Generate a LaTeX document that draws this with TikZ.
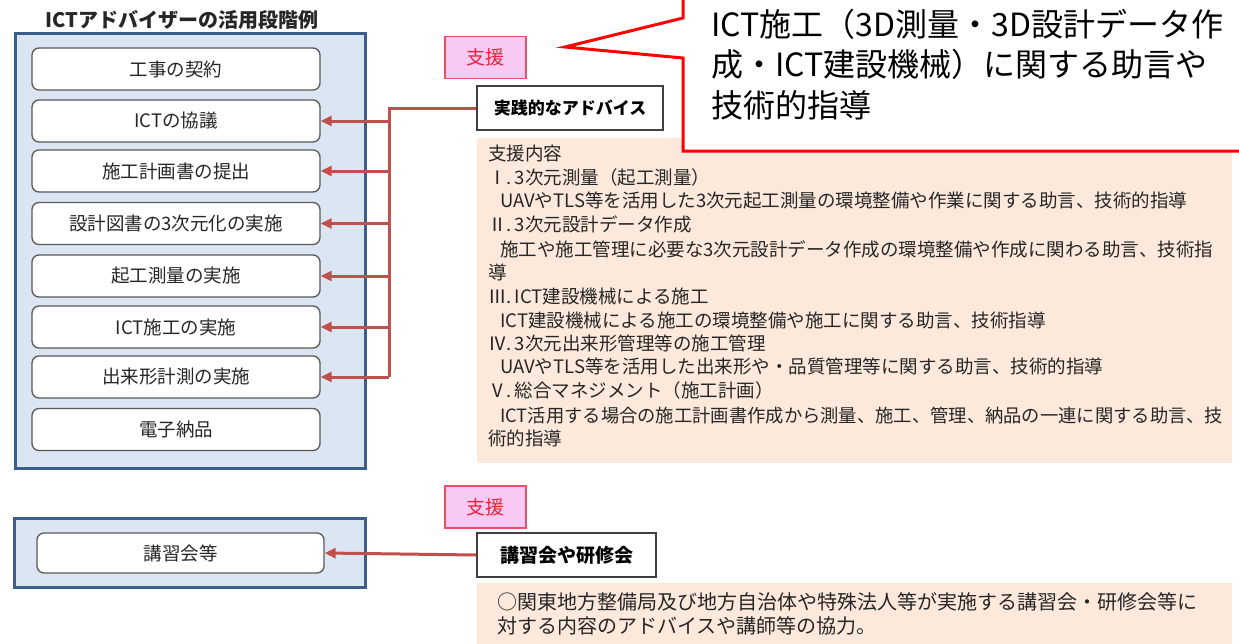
\documentclass[tikz,border=0pt]{standalone}
\usepackage{fontspec}
\setmainfont{Noto Sans CJK JP}
\usetikzlibrary{arrows.meta}
\definecolor{panelfill}{HTML}{DCE6F2}
\definecolor{panelline}{HTML}{3B5E8C}
\definecolor{arrcol}{HTML}{C0504D}
\definecolor{peach}{HTML}{FDE9DB}
\definecolor{pinkfill}{HTML}{F8C9F2}
\definecolor{pinkline}{HTML}{E8506A}
\definecolor{pinktext}{HTML}{E8203C}
\definecolor{txt}{HTML}{262626}
\tikzset{
  panel/.style={draw=panelline, fill=panelfill, line width=3pt},
  stage/.style={draw=black!65, fill=white, line width=1.3pt, rounded corners=7pt,
    minimum width=288pt, minimum height=42pt, inner sep=0pt, text=txt,
    font=\fontsize{18.5}{22}\selectfont},
  supportbox/.style={draw=pinkline, fill=pinkfill, line width=1.3pt,
    minimum width=81pt, minimum height=42pt, inner sep=0pt, text=pinktext,
    font=\fontsize{19}{22}\selectfont},
  advbox/.style={draw=black!75, fill=white, line width=1.5pt,
    minimum height=44pt, inner sep=0pt, text=black,
    font=\fontsize{17}{20}\selectfont\bfseries},
  peachbox/.style={fill=peach, draw=none},
  conn/.style={draw=arrcol, line width=3pt, line join=miter},
  arrowed/.style={conn, -{Triangle[length=11pt,width=10pt]}},
  bodyline/.style={anchor=west, inner sep=0pt, text=txt,
    text height=0.88em, text depth=0.12em,
    font=\fontsize{18.5}{22}\selectfont},
  calloutline/.style={anchor=west, inner sep=0pt, text=black,
    text height=0.88em, text depth=0.12em,
    font=\fontsize{32}{40}\selectfont},
}
\begin{document}
\begin{tikzpicture}[x=1pt,y=-1pt]
\useasboundingbox (0,0) rectangle (1239,643);
\clip (0,0) rectangle (1239,643);

% title
\node[anchor=west, inner sep=0pt, text=txt, font=\fontsize{20}{24}\selectfont\bfseries] (title) at (45,20) {ICTアドバイザーの活用段階例};

% left panels
\node[panel, minimum width=350pt, minimum height=435pt] (panel1) at (190,250.5) {};
\node[panel, minimum width=351pt, minimum height=69pt] (panel2) at (189.5,552.5) {};

\node[stage] (s1) at (176,69) {工事の契約};
\node[stage] (s2) at (176,121) {ICTの協議};
\node[stage] (s3) at (176,171) {施工計画書の提出};
\node[stage] (s4) at (176,223.5) {設計図書の3次元化の実施};
\node[stage] (s5) at (176,276) {起工測量の実施};
\node[stage] (s6) at (176,327) {ICT施工の実施};
\node[stage] (s7) at (176,377) {出来形計測の実施};
\node[stage] (s8) at (176,429.5) {電子納品};
\node[stage, minimum width=287pt, minimum height=40pt] (k1) at (180.5,553) {講習会等};

% peach boxes
\fill[peachbox] (477,138) rectangle (1232,463);
\fill[peachbox] (477,583) rectangle (1232,650);

% callout
\fill[white] (683,-5) -- (683,18) -- (565,47) -- (683,58) -- (683,151) -- (1250,151) -- (1250,-5) -- cycle;
\draw[red, line width=3pt, line join=miter] (683,-5) -- (683,18) -- (565,47) -- (683,58) -- (683,151) -- (1250,151);
\node[calloutline] (c1) at (711,33) {ICT施工（3D測量・3D設計データ作};
\node[calloutline] (c2) at (711,73) {成・ICT建設機械）に関する助言や};
\node[calloutline] (c3) at (711,114) {技術的指導};

% support labels and advice boxes
\node[supportbox] (sup1) at (485.5,57.5) {支援};
\node[supportbox] (sup2) at (485.5,507) {支援};
\node[advbox, minimum width=186pt] (adv1) at (570,108) {実践的なアドバイス};
\node[advbox, minimum width=179pt, font=\fontsize{19}{22}\selectfont\bfseries] (adv2) at (566.5,555) {講習会や研修会};

% connectors
\coordinate (trunk) at (389,108);
\draw[conn] (adv1.west) -| (trunk |- s7.east);
\foreach \s in {s2,s3,s4,s5,s6,s7}
  \draw[arrowed] (trunk |- \s.east) -- (\s.east);
\draw[arrowed] (adv2.west) -- (k1.east);

% body text
\node[bodyline] (b1) at (488,157) {支援内容};
\node[bodyline] (b2) at (488,181) {Ⅰ.\,3次元測量（起工測量）};
\node[bodyline] (b3) at (500,204) {UAVやTLS等を活用した3次元起工測量の環境整備や作業に関する助言、技術的指導};
\node[bodyline] (b4) at (488,228) {Ⅱ.\,3次元設計データ作成};
\node[bodyline] (b5) at (500,253) {施工や施工管理に必要な3次元設計データ作成の環境整備や作成に関わる助言、技術指};
\node[bodyline] (b6) at (488,276) {導};
\node[bodyline] (b7) at (488,300) {Ⅲ.\,ICT建設機械による施工};
\node[bodyline] (b8) at (500,324) {ICT建設機械による施工の環境整備や施工に関する助言、技術指導};
\node[bodyline] (b9) at (488,347) {Ⅳ.\,3次元出来形管理等の施工管理};
\node[bodyline] (b10) at (500,370) {UAVやTLS等を活用した出来形や・品質管理等に関する助言、技術的指導};
\node[bodyline] (b11) at (488,394) {Ⅴ.\,総合マネジメント（施工計画）};
\node[bodyline, font=\fontsize{18.3}{22}\selectfont] (b12) at (500,419) {ICT活用する場合の施工計画書作成から測量、施工、管理、納品の一連に関する助言、技};
\node[bodyline] (b13) at (488,442) {術的指導};

\node[bodyline, font=\fontsize{20}{24}\selectfont] (l1) at (497,606) {○関東地方整備局及び地方自治体や特殊法人等が実施する講習会・研修会等に};
\node[bodyline, font=\fontsize{20}{24}\selectfont] (l2) at (497,630) {対する内容のアドバイスや講師等の協力。};
\end{tikzpicture}
\end{document}
